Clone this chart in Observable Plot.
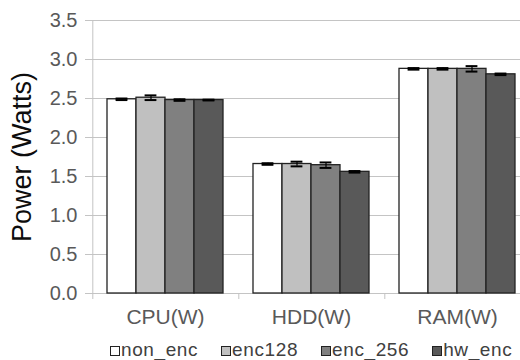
<!DOCTYPE html>
<html><head><meta charset="utf-8">
<script src="https://cdn.jsdelivr.net/npm/d3@7"></script>
<script src="https://cdn.jsdelivr.net/npm/@observablehq/plot@0.6"></script>
<style>
body{margin:0;background:#fff;font-family:"Liberation Sans",Arial,sans-serif;}
#chart{width:520px;height:360px;overflow:hidden;position:relative;}
#legend{position:absolute;left:110px;top:338px;display:flex;justify-content:flex-start;font-size:19px;letter-spacing:0.6px;color:#404040;line-height:24px;}
#legend .it{display:flex;align-items:center;margin-right:23px;}
#legend .sw{width:8px;height:8px;border:1px solid #222;margin-right:1px;margin-top:2px;}
</style></head>
<body><div id="chart"></div>
<script>
const categories = ["CPU(W)", "HDD(W)", "RAM(W)"];
const series = ["non_enc", "enc128", "enc_256", "hw_enc"];
const colors = ["#ffffff", "#c0c0c0", "#808080", "#595959"];
const cpu = [2.49, 2.51, 2.48, 2.48];
const hdd = [1.66, 1.66, 1.645, 1.56];
const ram = [2.88, 2.88, 2.88, 2.81];
const cpuErr = [0.01, 0.03, 0.01, 0.005];
const hddErr = [0.01, 0.03, 0.035, 0.01];
const ramErr = [0.01, 0.01, 0.035, 0.01];
const yTicks = [0, 0.5, 1, 1.5, 2, 2.5, 3, 3.5];
const yTitle = "Power (Watts)";

const vals = [cpu, hdd, ram], errs = [cpuErr, hddErr, ramErr];
const data = [];
categories.forEach((c, i) => series.forEach((s, j) => data.push({cat: c, s, v: vals[i][j], e: errs[i][j]})));
const firsts = categories.map(c => ({cat: c, s: series[0]}));

const plot = Plot.plot({
  width: 520, height: 332,
  marginLeft: 92, marginRight: -10, marginTop: 20, marginBottom: 39,
  style: {fontFamily: "Liberation Sans, Arial, sans-serif", background: "#fff", overflow: "hidden"},
  fx: {domain: categories, padding: 0, label: null},
  x: {domain: series, paddingInner: 0, paddingOuter: 0.5, axis: null},
  y: {domain: [0, 3.5], label: null},
  color: {domain: series, range: colors},
  marks: [
    Plot.gridY(yTicks, {stroke: "#c4c4c4", strokeOpacity: 1, strokeWidth: 1}),
    Plot.axisY({ticks: yTicks, tickFormat: ".1f", tickSize: 7, tickPadding: 8, stroke: "#c4c4c4", strokeOpacity: 1, fontSize: 20, color: "#595959", label: null}),
    Plot.axisFx({anchor: "bottom", tickSize: 0, tickPadding: 16, fontSize: 21, color: "#595959", label: null}),
    Plot.ruleX(firsts.slice(0, 1), {x: "s", fx: "cat", dx: -29.2, stroke: "#c4c4c4"}),
    Plot.ruleX(firsts, {x: "s", fx: "cat", dx: -29.2, stroke: "#c4c4c4", insetTop: 273, insetBottom: -6}),
    Plot.barY(data, {x: "s", fx: "cat", y: "v", fill: "s", stroke: "#222", strokeWidth: 1.3}),
    Plot.ruleX(data, {x: "s", fx: "cat", y1: d => d.v - d.e, y2: d => d.v + d.e, stroke: "#000", strokeWidth: 1.2}),
    Plot.tickY(data, {x: "s", fx: "cat", y: d => d.v + d.e, stroke: "#000", strokeWidth: 2, insetLeft: 8.6, insetRight: 8.6}),
    Plot.tickY(data, {x: "s", fx: "cat", y: d => d.v - d.e, stroke: "#000", strokeWidth: 2, insetLeft: 8.6, insetRight: 8.6}),
    Plot.text(firsts.slice(0, 1), {fx: "cat", text: () => yTitle, frameAnchor: "left", textAnchor: "middle", rotate: -90, dx: -70, fontSize: 27, fill: "#0d0d0d"})
  ]
});
const chart = document.getElementById("chart");
chart.appendChild(plot);
const lg = document.createElement("div");
lg.id = "legend";
series.forEach((s, i) => {
  const it = document.createElement("div"); it.className = "it";
  const sw = document.createElement("span"); sw.className = "sw"; sw.style.background = colors[i];
  it.appendChild(sw); it.appendChild(document.createTextNode(s));
  lg.appendChild(it);
});
chart.appendChild(lg);
</script></body></html>
